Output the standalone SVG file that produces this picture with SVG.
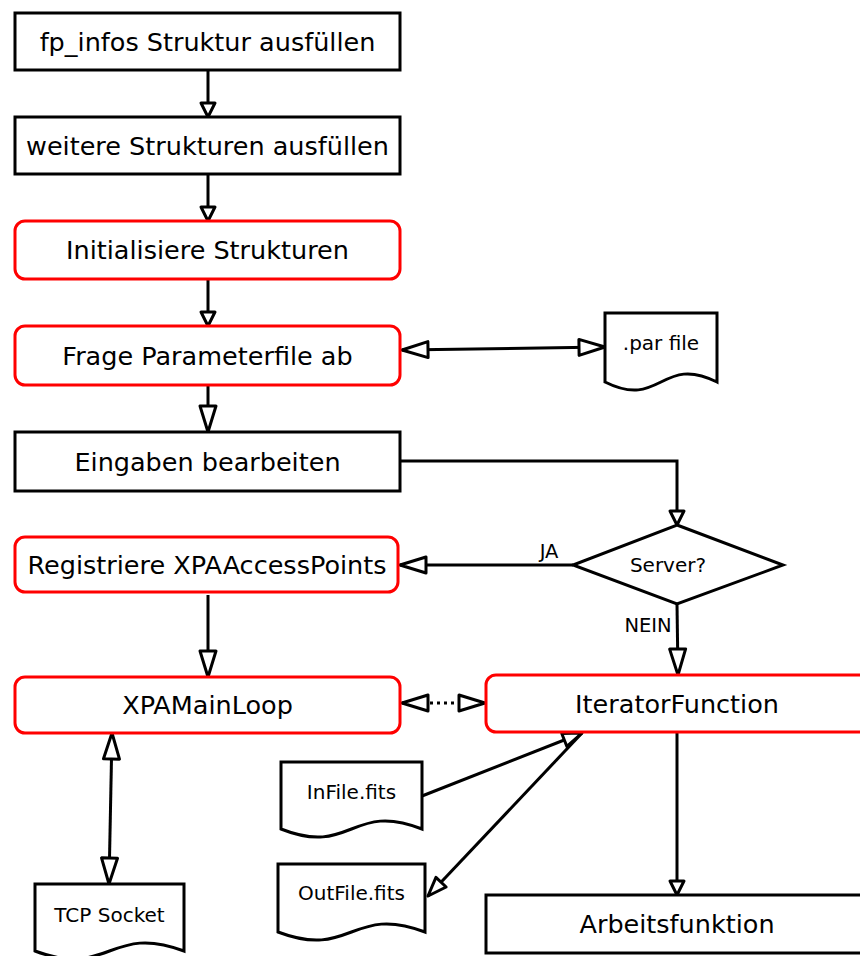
<svg xmlns="http://www.w3.org/2000/svg" width="860" height="956" viewBox="0 0 860 956">
  <style>
    .box { fill: #fff; stroke: #000; stroke-width: 3; }
    .rbox { fill: #fff; stroke: #ff0000; stroke-width: 3; }
    .doc { fill: #fff; stroke: #000; stroke-width: 3; stroke-linejoin: miter; }
    .t { font-family: "DejaVu Sans", Verdana, sans-serif; font-size: 25.5px; fill: #000; text-anchor: middle; }
    .ts { font-family: "DejaVu Sans", Verdana, sans-serif; font-size: 20px; fill: #000; text-anchor: middle; }
    .tl { font-family: "DejaVu Sans", Verdana, sans-serif; font-size: 19.5px; fill: #000; text-anchor: middle; }
    .c { fill: none; stroke: #000; stroke-width: 3; }
  </style>
  <defs>
    <!-- open triangular arrowheads: small, medium, long -->
    <marker id="as" markerUnits="userSpaceOnUse" markerWidth="20" markerHeight="20" refX="15" refY="10" orient="auto-start-reverse" overflow="visible">
      <path d="M1,3 L15,10 L1,17 Z" fill="#fff" stroke="#000" stroke-width="3" stroke-linejoin="round"/>
    </marker>
    <marker id="am" markerUnits="userSpaceOnUse" markerWidth="24" markerHeight="20" refX="20" refY="10" orient="auto-start-reverse" overflow="visible">
      <path d="M1,3 L20,10 L1,17 Z" fill="#fff" stroke="#000" stroke-width="3" stroke-linejoin="round"/>
    </marker>
    <marker id="al" markerUnits="userSpaceOnUse" markerWidth="30" markerHeight="20" refX="27" refY="10" orient="auto-start-reverse" overflow="visible">
      <path d="M1,2 L27,10 L1,18 Z" fill="#fff" stroke="#000" stroke-width="3" stroke-linejoin="round"/>
    </marker>
  </defs>

  <rect width="860" height="956" fill="#fff"/>

  <g id="connectors">
    <path class="c" d="M208,70 V117" marker-end="url(#as)"/>
    <path class="c" d="M208,174 V221" marker-end="url(#as)"/>
    <path class="c" d="M208,279 V326" marker-end="url(#as)"/>
    <path class="c" d="M208,385 V432" marker-end="url(#al)"/>
    <path class="c" d="M402,350 L605,347" marker-start="url(#al)" marker-end="url(#al)"/>
    <path class="c" d="M400,461 H677 V525" marker-end="url(#as)"/>
    <path class="c" d="M573,565 L400,565" marker-end="url(#al)"/>
    <path class="c" d="M677,604 L678,675" marker-end="url(#al)"/>
    <path class="c" d="M208,595 V677" marker-end="url(#al)"/>
    <path class="c" d="M402,703 H485" stroke-dasharray="3 4" marker-start="url(#al)" marker-end="url(#al)"/>
    <path class="c" d="M112,733 L109,884" marker-start="url(#al)" marker-end="url(#al)"/>
    <path class="c" d="M422,796 L582,733" marker-end="url(#am)"/>
    <path class="c" d="M582,733 L428,896" marker-end="url(#am)"/>
    <path class="c" d="M677,732 V895" marker-end="url(#as)"/>
    <text class="tl" x="549" y="558">JA</text>
    <text class="tl" x="648" y="632">NEIN</text>
  </g>

  <g id="fp-infos">
    <rect class="box" x="15" y="13" width="385" height="57"/>
    <text class="t" x="207.5" y="51">fp_infos Struktur ausfüllen</text>
  </g>
  <g id="weitere">
    <rect class="box" x="15" y="117" width="385" height="57"/>
    <text class="t" x="207.5" y="155">weitere Strukturen ausfüllen</text>
  </g>
  <g id="initialisiere">
    <rect class="rbox" x="15" y="221" width="385" height="58" rx="10"/>
    <text class="t" x="207.5" y="259">Initialisiere Strukturen</text>
  </g>
  <g id="frage">
    <rect class="rbox" x="15" y="326" width="385" height="59" rx="10"/>
    <text class="t" x="207.5" y="365">Frage Parameterfile ab</text>
  </g>
  <g id="par-file">
    <path class="doc" d="M605,313 H717 V382 C661,354 661,410 605,382 Z"/>
    <text class="ts" x="661" y="350">.par file</text>
  </g>
  <g id="eingaben">
    <rect class="box" x="15" y="432" width="385" height="59"/>
    <text class="t" x="207.5" y="471">Eingaben bearbeiten</text>
  </g>
  <g id="server">
    <path class="box" d="M677,525 L783,565 L677,604 L573,565 Z"/>
    <text class="ts" x="668" y="572">Server?</text>
  </g>
  <g id="registriere">
    <rect class="rbox" x="15" y="537" width="383" height="55" rx="10"/>
    <text class="t" x="207" y="574">Registriere XPAAccessPoints</text>
  </g>
  <g id="xpamainloop">
    <rect class="rbox" x="15" y="677" width="385" height="56" rx="10"/>
    <text class="t" x="207.5" y="714">XPAMainLoop</text>
  </g>
  <g id="iteratorfunction">
    <rect class="rbox" x="486" y="675" width="385" height="57" rx="10"/>
    <text class="t" x="677" y="713">IteratorFunction</text>
  </g>
  <g id="infile">
    <path class="doc" d="M281,762 H422 V829 C351.5,801 351.5,857 281,829 Z"/>
    <text class="ts" x="351.5" y="799">InFile.fits</text>
  </g>
  <g id="outfile">
    <path class="doc" d="M278,864 H425 V932 C351.5,904 351.5,960 278,932 Z"/>
    <text class="ts" x="351.5" y="900">OutFile.fits</text>
  </g>
  <g id="tcp-socket">
    <path class="doc" d="M35,884 H184 V951 C109.5,923 109.5,979 35,951 Z"/>
    <text class="ts" x="109.5" y="922">TCP Socket</text>
  </g>
  <g id="arbeitsfunktion">
    <rect class="box" x="486" y="895" width="385" height="58"/>
    <text class="t" x="677" y="933">Arbeitsfunktion</text>
  </g>
</svg>
